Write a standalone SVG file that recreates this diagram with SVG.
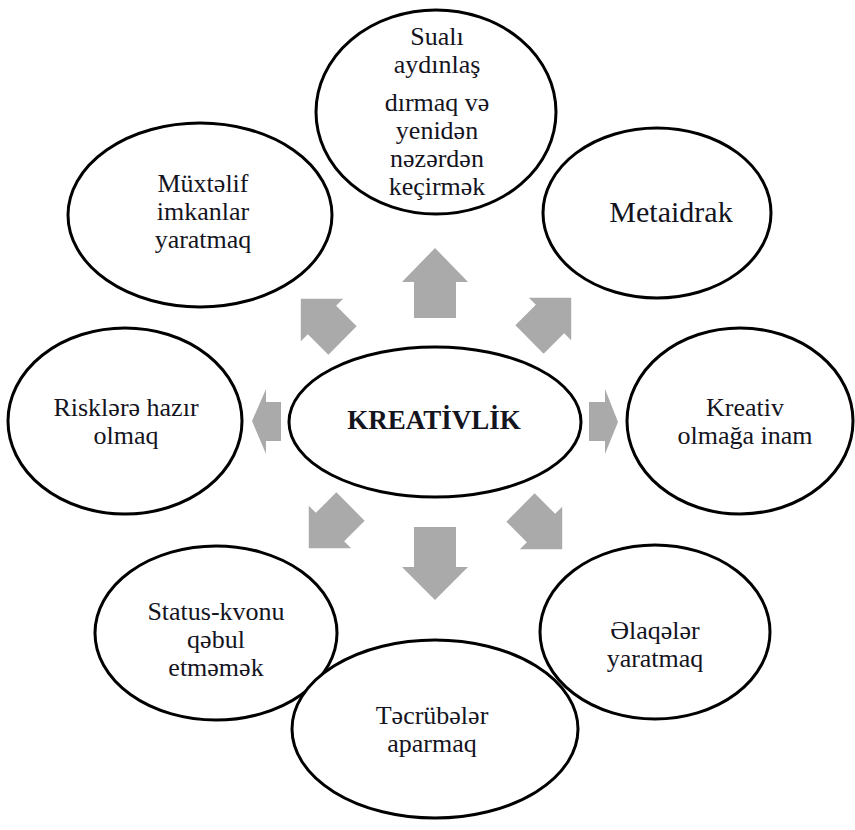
<svg xmlns="http://www.w3.org/2000/svg" xmlns:xlink="http://www.w3.org/1999/xlink" width="855" height="830" viewBox="0 0 855 830">
<style>
.node ellipse{fill:#fff;stroke:#000;stroke-width:3}
.node text{font-family:"Liberation Serif","Times New Roman",serif;font-size:26px;fill:#14141e;text-anchor:middle}
.arrow{fill:#aaaaaa;stroke:none}
</style>
<defs>
<polygon id="diag" points="0,-30 30,0 20,0 20,29 -20,29 -20,0 -30,0"/>
</defs>
<rect width="855" height="830" fill="#fff"/>
<g id="connectors">
<polygon class="arrow" points="435,248 468,282 456,282 456,318 414,318 414,282 402,282"/>
<polygon class="arrow" points="414,527 456,527 456,567 468,567 435,600 402,567 414,567"/>
<polygon class="arrow" points="252,421 266,389 266,402 281,402 281,441 266,441 266,454"/>
<polygon class="arrow" points="589,402 605,402 605,389 618,422 605,454 605,441 589,441"/>
<use class="arrow" xlink:href="#diag" transform="translate(322,320) rotate(-45)"/>
<use class="arrow" xlink:href="#diag" transform="translate(550,319) rotate(45)"/>
<use class="arrow" xlink:href="#diag" transform="translate(330,527) rotate(-135)"/>
<use class="arrow" xlink:href="#diag" transform="translate(541,528) rotate(135)"/>
</g>
<g id="node-sual" class="node">
<ellipse cx="436" cy="112" rx="120" ry="102"/>
<text x="437" y="45">Sualı</text>
<text x="437" y="73">aydınlaş</text>
<text x="437" y="111">dırmaq və</text>
<text x="437" y="139">yenidən</text>
<text x="437" y="167">nəzərdən</text>
<text x="437" y="195">keçirmək</text>
</g>
<g id="node-muxtelif" class="node">
<ellipse cx="200" cy="215" rx="132" ry="92"/>
<text x="203" y="192">Müxtəlif</text>
<text x="203" y="220">imkanlar</text>
<text x="203" y="248">yaratmaq</text>
</g>
<g id="node-metaidrak" class="node">
<ellipse cx="657" cy="213" rx="114" ry="85"/>
<text x="671" y="222" style="font-size:30px">Metaidrak</text>
</g>
<g id="node-risk" class="node">
<ellipse cx="125" cy="421" rx="117" ry="93"/>
<text x="126" y="416">Risklərə hazır</text>
<text x="126" y="444">olmaq</text>
</g>
<g id="node-kreativlik" class="node">
<ellipse cx="435" cy="422" rx="146" ry="75"/>
<text x="434" y="429" style="font-weight:bold;font-size:27px">KREATİVLİK</text>
</g>
<g id="node-inam" class="node">
<ellipse cx="740" cy="421" rx="113" ry="93"/>
<text x="745" y="416">Kreativ</text>
<text x="745" y="444">olmağa inam</text>
</g>
<g id="node-status" class="node">
<ellipse cx="216" cy="633" rx="121" ry="87"/>
<text x="216" y="620">Status-kvonu</text>
<text x="216" y="648">qəbul</text>
<text x="216" y="676">etməmək</text>
</g>
<g id="node-elaqe" class="node">
<ellipse cx="655" cy="632" rx="115" ry="87"/>
<text x="655" y="639">Əlaqələr</text>
<text x="655" y="667">yaratmaq</text>
</g>
<g id="node-tecrube" class="node">
<ellipse cx="435" cy="729" rx="143" ry="89"/>
<text x="432" y="724">Təcrübələr</text>
<text x="432" y="752">aparmaq</text>
</g>
</svg>
